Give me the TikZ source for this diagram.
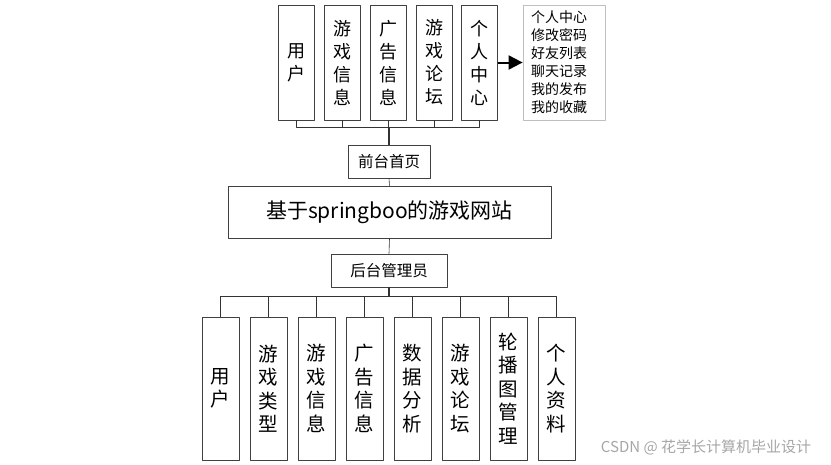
\documentclass[tikz,border=0pt]{standalone}
\usepackage{fontspec}
\setmainfont{Noto Sans CJK SC}
\usetikzlibrary{arrows.meta}
\begin{document}
\begin{tikzpicture}[x=1pt,y=-1pt,line join=round,
	box/.style={draw=black!75,line width=0.9pt,fill=white,inner sep=0pt,align=center},
	topcol/.style={box,minimum width=36pt,minimum height=115pt,font=\fontsize{18}{23}\selectfont},
	lowcol/.style={box,minimum width=37pt,minimum height=143pt,font=\fontsize{19.5}{23.5}\selectfont},
	wire/.style={draw=black!80,line width=0.9pt}]
	\useasboundingbox (0,0) rectangle (831,464);
	% front end
	\node[topcol] (qyh) at (296.5,62.5) {用\\户};
	\node[topcol] (qyx) at (342,62.5) {游\\戏\\信\\息};
	\node[topcol] (qgg) at (388,62.5) {广\\告\\信\\息};
	\node[topcol] (qlt) at (434,62.5) {游\\戏\\论\\坛};
	\node[topcol] (qgr) at (479.5,62.5) {个\\人\\中\\心};
	\node[draw=black!25,line width=0.8pt,fill=white,inner xsep=8pt,inner ysep=0pt,
		text width=66pt,minimum height=115pt,align=left,font=\fontsize{14}{18}\selectfont]
		(grlist) at (564,62.5) {个人中心\\修改密码\\好友列表\\聊天记录\\我的发布\\我的收藏};
	\draw[line width=2pt,-{Triangle[length=14pt,width=14pt]}] (qgr.east) -- (grlist.west);
	\node[box,minimum width=82pt,minimum height=33pt,font=\fontsize{15.5}{18}\selectfont] (qtsy) at (389,161.5) {前台首页};
	\coordinate (qbus) at (389,127);
	\foreach \n in {qyh,qyx,qgg,qlt,qgr}
		\draw[wire] (\n.south) |- (qbus);
	\draw[wire,line width=1.4pt] (qbus) -- (qtsy.north);
	% title
	\node[box,minimum width=323pt,minimum height=52pt,font=\fontsize{21}{24}\selectfont] (site) at (389.5,212) {基于springboo的游戏网站};
	\draw[wire,line width=0.6pt] (qtsy.south) -- (site.north);
	% back end
	\node[box,minimum width=116pt,minimum height=33pt,font=\fontsize{15.5}{18}\selectfont] (htgl) at (389,270.5) {后台管理员};
	\draw[wire,line width=0.6pt] (site.south) -- (htgl.north);
	\coordinate (hbus) at (389,296);
	\draw[wire,line width=1.4pt] (htgl.south) -- (hbus);
	\foreach \i/\t in {1/{用\\户},2/{游\\戏\\类\\型},3/{游\\戏\\信\\息},4/{广\\告\\信\\息},
		5/{数\\据\\分\\析},6/{游\\戏\\论\\坛},7/{轮\\播\\图\\管\\理},8/{个\\人\\资\\料}}{
		\node[lowcol] (hb\i) at ({220.5+48*(\i-1)},388.5) {\t};
		\draw[wire] (hb\i.north) |- (hbus);
	}
	\node[text=black!35,font=\fontsize{15}{17}\selectfont] (mark) at (706,447) {CSDN @ 花学长计算机毕业设计};
\end{tikzpicture}
\end{document}
